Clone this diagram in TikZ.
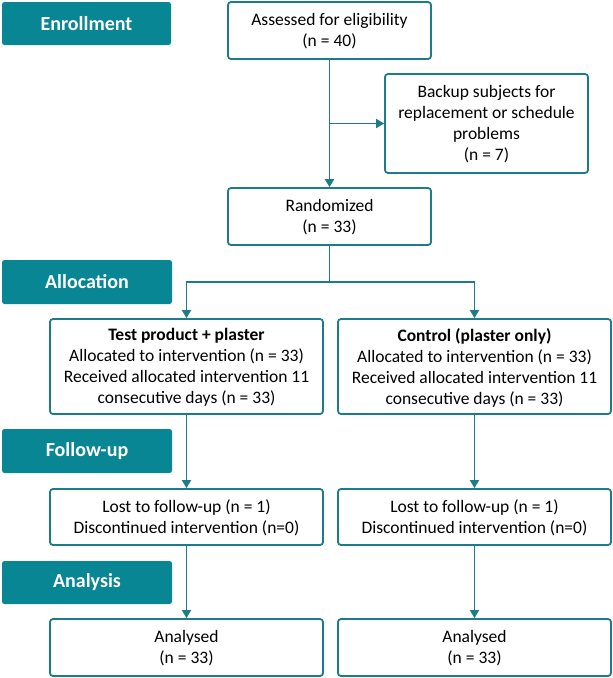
\documentclass[tikz,border=0pt]{standalone}
\usepackage{fontspec}
\setmainfont{Carlito}
\usepackage{xcolor}
\usetikzlibrary{arrows.meta}
\definecolor{phasefill}{RGB}{9,134,147}
\definecolor{flowline}{RGB}{28,124,137}
\tikzset{phase/.style={fill=phasefill, draw=none, rounded corners=2.5pt, text=white,
    font=\fontsize{20}{24}\selectfont\bfseries, inner sep=0pt}}
\tikzset{box/.style={draw=flowline, line width=1.8pt, rounded corners=3pt, fill=white,
    align=center, inner sep=0pt, text depth=1pt, font=\fontsize{17.5}{21}\selectfont}}
\tikzset{flow/.style={draw=flowline, line width=1.8pt, -{Triangle[width=9pt,length=8pt]}}}

\begin{document}
\begin{tikzpicture}[x=1pt, y=-1pt]
  \useasboundingbox (0,0) rectangle (613,678);
  % phase labels
  \node[phase, minimum width=169pt, minimum height=43pt] (enroll) at (86.5,23.5) {Enrollment};
  \node[phase, minimum width=170pt, minimum height=44pt] (alloc) at (87,282) {Allocation};
  \node[phase, minimum width=170pt, minimum height=44pt] (follow) at (87,451) {Follow-up};
  \node[phase, minimum width=170pt, minimum height=43pt] (analysis) at (87,582.5) {Analysis};

  % enrollment
  \node[box, minimum width=203pt, minimum height=57pt] (assess) at (329.5,30.5)
    {Assessed for eligibility\\(n = 40)};
  \node[box, minimum width=203pt, minimum height=99pt] (backup) at (486.5,123.5)
    {Backup subjects for\\replacement or schedule\\problems\\(n = 7)};
  \node[box, minimum width=203pt, minimum height=57pt] (random) at (329.5,216.5)
    {Randomized\\(n = 33)};

  % two arms
  \node[box, minimum width=273pt, minimum height=95pt] (testarm) at (186.5,366.5)
    {\textbf{Test product + plaster}\\Allocated to intervention (n = 33)\\Received allocated intervention 11\\consecutive days (n = 33)};
  \node[box, minimum width=273pt, minimum height=95pt] (ctrlarm) at (474.5,366.5)
    {\textbf{Control (plaster only)}\\Allocated to intervention (n = 33)\\Received allocated intervention 11\\consecutive days (n = 33)};
  \node[box, minimum width=273pt, minimum height=56pt] (testlost) at (186.5,517)
    {Lost to follow-up (n = 1)\\Discontinued intervention (n=0)};
  \node[box, minimum width=273pt, minimum height=56pt] (ctrllost) at (474.5,517)
    {Lost to follow-up (n = 1)\\Discontinued intervention (n=0)};
  \node[box, minimum width=273pt, minimum height=57pt] (testana) at (186.5,647.5)
    {Analysed\\(n = 33)};
  \node[box, minimum width=273pt, minimum height=57pt] (ctrlana) at (474.5,647.5)
    {Analysed\\(n = 33)};

  % connectors
  \coordinate (split) at (assess.south |- backup.west);
  \coordinate (fork) at (random.south |- alloc.east);
  \draw[flow] (assess.south) -- (random.north);
  \draw[flow] (split) -- (backup.west);
  \draw[flow] (random.south) -- (fork) -| (testarm.north);
  \draw[flow] (fork) -| (ctrlarm.north);
  \draw[flow] (testarm) -- (testlost);
  \draw[flow] (testlost) -- (testana);
  \draw[flow] (ctrlarm) -- (ctrllost);
  \draw[flow] (ctrllost) -- (ctrlana);
\end{tikzpicture}
\end{document}
